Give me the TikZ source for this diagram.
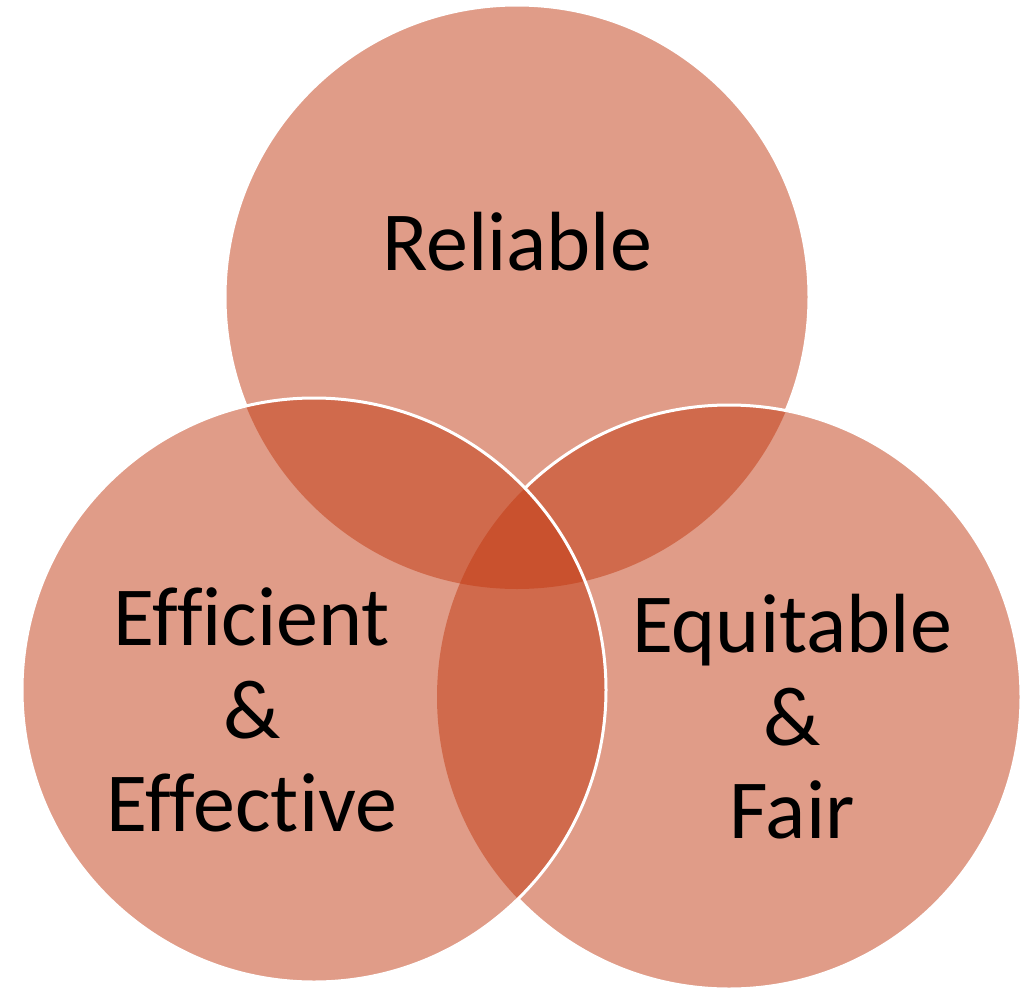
\documentclass[tikz,border=0pt]{standalone}
\usepackage{fontspec}
\setmainfont{Carlito}[Ligatures={NoCommon}]
\definecolor{venn}{RGB}{193,57,17}
\begin{document}
\begin{tikzpicture}[x=1pt,y=-1pt,
  vennfill/.style={fill=venn, fill opacity=0.5},
  vennline/.style={draw=white, line width=3pt},
  lbl/.style={font=\fontsize{84}{93}\selectfont, align=center, text=black, inner sep=0pt}]
\useasboundingbox (0,0) rectangle (1031,990);
\coordinate (T) at (517,297);
\coordinate (L) at (314,690);
\coordinate (R) at (729,697);
% fills
\fill[vennfill] (T) circle[radius=292pt];
\fill[vennfill] (R) circle[radius=292pt];
\fill[vennfill] (L) circle[radius=292pt];
% outlines
\begin{scope}[even odd rule]
  \clip (-10,-10) rectangle (1041,1000) (L) circle[radius=292pt];
  \begin{scope}[even odd rule]
    \clip (-10,-10) rectangle (1041,1000) (R) circle[radius=292pt];
    \draw[vennline] (T) circle[radius=292pt];
  \end{scope}
  \draw[vennline] (R) circle[radius=292pt];
\end{scope}
\draw[vennline] (L) circle[radius=292pt];
% labels
\node[lbl, anchor=base] (rel) at (517,270) {Reliable};
\node[lbl] (eff) at (252,710) {Efficient\\\&\\Effective};
\node[lbl] (equ) at (792,717) {Equitable\\\&\\Fair};
\end{tikzpicture}
\end{document}
